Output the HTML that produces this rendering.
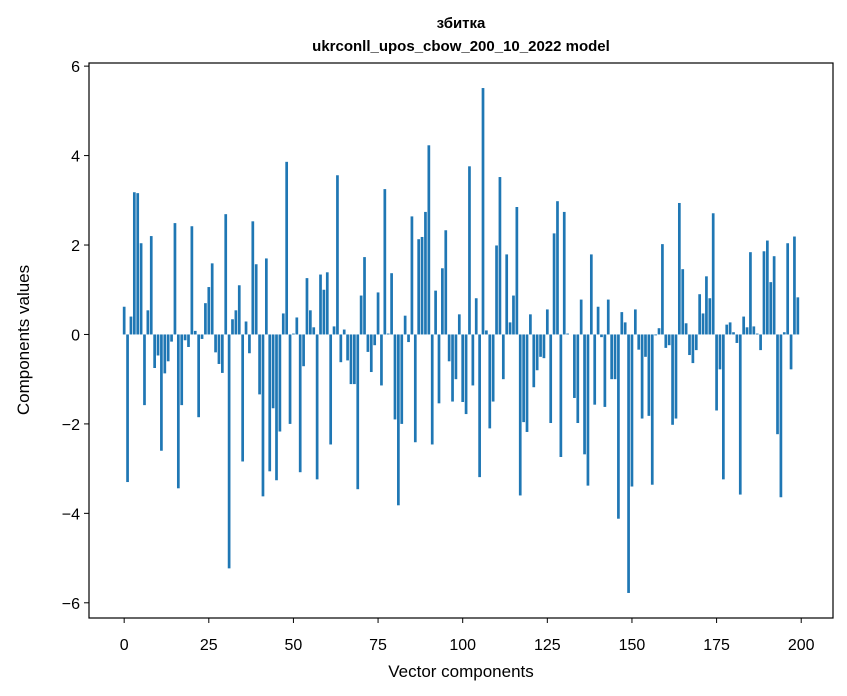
<!DOCTYPE html>
<html><head><meta charset="utf-8"><style>
body{margin:0;background:#fff;}
svg{display:block;font-family:"Liberation Sans","DejaVu Sans",sans-serif;}
</style></head><body>
<svg id="chart" width="847" height="696" viewBox="0 0 847 696" xmlns="http://www.w3.org/2000/svg">
<rect width="847" height="696" fill="#fff"/>
<text x="461" y="28" text-anchor="middle" font-size="15" font-weight="bold">збитка</text>
<text x="461" y="51" text-anchor="middle" font-size="15" font-weight="bold">ukrconll_upos_cbow_200_10_2022 model</text>
<g id="bars"></g>
<g id="xticks"></g>
<g id="yticks"></g>
<rect x="89" y="63" width="744" height="555" fill="none" stroke="#000" stroke-width="1.2"/>
<text x="461" y="677" text-anchor="middle" font-size="17">Vector components</text>
<text transform="translate(29,340) rotate(-90)" text-anchor="middle" font-size="17">Components values</text>
</svg>
<script>
const values = [0.62,-3.3,0.4,3.18,3.16,2.04,-1.58,0.54,2.2,-0.75,
-0.47,-2.6,-0.87,-0.6,-0.16,2.49,-3.44,-1.58,-0.13,-0.28,
2.42,0.08,-1.85,-0.1,0.7,1.06,1.59,-0.4,-0.66,-0.86,
2.69,-5.23,0.34,0.54,1.1,-2.84,0.29,-0.42,2.53,1.57,
-1.34,-3.62,1.7,-3.06,-1.65,-3.26,-2.17,0.47,3.86,-2.0,
0.02,0.38,-3.08,-0.71,1.26,0.54,0.16,-3.24,1.34,1.0,
1.39,-2.46,0.18,3.56,-0.62,0.11,-0.58,-1.11,-1.11,-3.46,
0.87,1.73,-0.39,-0.84,-0.24,0.94,-1.14,3.25,0.02,1.37,
-1.9,-3.82,-2.0,0.42,-0.17,2.64,-2.41,2.13,2.18,2.74,
4.23,-2.46,0.98,-1.54,1.48,2.33,-0.6,-1.5,-1.0,0.45,
-1.51,-1.78,3.76,-1.14,0.81,-3.19,5.51,0.09,-2.1,-1.5,
1.99,3.52,-1.0,1.79,0.27,0.87,2.85,-3.6,-1.96,-2.18,
0.45,-1.18,-0.8,-0.5,-0.53,0.56,-1.98,2.26,2.98,-2.74,
2.74,0.02,0.0,-1.42,-1.98,0.78,-2.68,-3.38,1.79,-1.57,
0.62,-0.06,-1.62,0.78,-1.0,-1.0,-4.12,0.5,0.27,-5.78,
-3.4,0.56,-0.34,-1.88,-0.5,-1.82,-3.36,-0.02,0.14,2.02,
-0.3,-0.24,-2.02,-1.88,2.94,1.46,0.25,-0.46,-0.64,-0.35,
0.9,0.47,1.3,0.81,2.71,-1.7,-0.78,-3.24,0.22,0.27,
0.05,-0.19,-3.58,0.4,0.16,1.84,0.18,0.02,-0.35,1.86,
2.1,1.17,1.75,-2.23,-3.64,0.05,2.04,-0.78,2.19,0.83];
const xTicks = [0,25,50,75,100,125,150,175,200];
const yTicks = [-6,-4,-2,0,2,4,6];

const L=89,R=833,T=63,B=618;
const xMin=-10.39,xMax=209.39,yMin=-6.34,yMax=6.07;
function xs(v){return L+(v-xMin)/(xMax-xMin)*(R-L);}
function ys(v){return B-(v-yMin)/(yMax-yMin)*(B-T);}
const NS="http://www.w3.org/2000/svg";
const bars=document.getElementById('bars');
const bw=xs(0.8)-xs(0);
values.forEach((v,i)=>{
  const r=document.createElementNS(NS,'rect');
  
  
  const y0=ys(0),y1=ys(v);
  r.setAttribute('x',xs(i)-bw/2);
  r.setAttribute('width',bw);
  r.setAttribute('y',Math.min(y0,y1));
  r.setAttribute('height',Math.abs(y1-y0));
  r.setAttribute('fill','#1f77b4');
  bars.appendChild(r);
});
const xg=document.getElementById('xticks');
xTicks.forEach(t=>{
  const x=xs(t);
  const l=document.createElementNS(NS,'line');
  
  
  l.setAttribute('x1',x);l.setAttribute('x2',x);l.setAttribute('y1',B);l.setAttribute('y2',B+5);
  l.setAttribute('stroke','#000');
  xg.appendChild(l);
  const tx=document.createElementNS(NS,'text');
  
  
  tx.setAttribute('x',x);tx.setAttribute('y',B+32);
  tx.setAttribute('text-anchor','middle');tx.setAttribute('font-size','16');
  tx.textContent=t;
  xg.appendChild(tx);
});
const yg=document.getElementById('yticks');
yTicks.forEach(t=>{
  const y=ys(t);
  const l=document.createElementNS(NS,'line');
  
  
  l.setAttribute('x1',L-5);l.setAttribute('x2',L);l.setAttribute('y1',y);l.setAttribute('y2',y);
  l.setAttribute('stroke','#000');
  yg.appendChild(l);
  const tx=document.createElementNS(NS,'text');
  
  
  tx.setAttribute('x',L-9);tx.setAttribute('y',y+6);
  tx.setAttribute('text-anchor','end');tx.setAttribute('font-size','16');
  tx.textContent=t<0?'\u2212'+Math.abs(t):String(t);
  yg.appendChild(tx);
});
</script>
</body></html>
